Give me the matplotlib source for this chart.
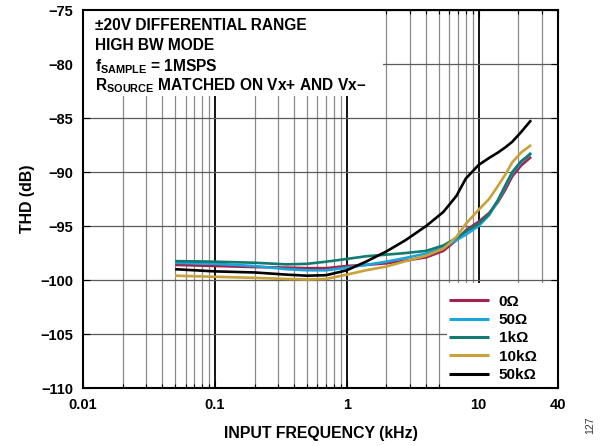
#!/usr/bin/env python
# -*- coding: utf-8 -*-

import matplotlib
matplotlib.use('Agg')
import matplotlib.pyplot as plt
from matplotlib.patches import Rectangle
from matplotlib.ticker import LogLocator, FixedLocator, FixedFormatter, NullFormatter

###############################################################################
# Data
###############################################################################
FREQ_KHZ = [
    0.05, 0.1, 0.2, 0.35, 0.5, 0.7, 1, 1.4, 2, 2.8, 4, 5.4, 6.8, 8,
    10, 12, 14, 16, 18, 21, 25
]
THD_0R = [
    -98.6, -98.7, -98.8, -98.85, -98.9, -98.9, -98.7, -98.6, -98.45, -98.2,
    -97.9, -97.3, -96.3, -95.4, -94.6, -93.8, -92.8, -91.6, -90.4, -89.4, -88.6
]
THD_50R = [
    -98.4, -98.5, -98.7, -99.0, -99.1, -99.1, -98.85, -98.6, -98.3, -97.95,
    -97.55, -97.0, -96.3, -95.8, -95.0, -94.0, -92.7, -91.3, -90.1, -89.1, -88.2
]
THD_1K = [
    -98.25, -98.3, -98.4, -98.55, -98.5, -98.3, -98.05, -97.8, -97.65, -97.5,
    -97.3, -96.8, -96.1, -95.5, -94.8, -93.9, -92.6, -91.2, -90.0, -89.0, -88.3
]
THD_10K = [
    -99.6, -99.7, -99.8, -99.9, -99.95, -99.9, -99.5, -99.1, -98.75, -98.25,
    -97.75, -97.1, -96.0, -94.8, -93.5, -92.5, -91.3, -90.2, -89.1, -88.2, -87.5
]
THD_50K = [
    -99.0, -99.2, -99.3, -99.5, -99.6, -99.55, -99.1, -98.3, -97.35, -96.3,
    -95.0, -93.7, -92.2, -90.6, -89.35, -88.7, -88.2, -87.7, -87.2, -86.3, -85.2
]
LABELS = ['0Ω', '50Ω', '1kΩ', '10kΩ', '50kΩ']
COLORS = ['#A3234F', '#1BA5DD', '#127A6E', '#C9A13A', '#000000']
XTICKS = [0.01, 0.1, 1, 10, 40]
XTICK_LABELS = ['0.01', '0.1', '1', '10', '40']
YTICKS = [-75, -80, -85, -90, -95, -100, -105, -110]
NOTE_LINES = [
    '±20V DIFFERENTIAL RANGE',
    'HIGH BW MODE',
    r'f$_{\mathregular{SAMPLE}}$ = 1MSPS',
    r'R$_{\mathregular{SOURCE}}$ MATCHED ON Vx+ AND Vx–',
]

###############################################################################
# Style
###############################################################################
plt.rcParams['font.family'] = ['Liberation Sans', 'DejaVu Sans']
plt.rcParams['font.weight'] = 'bold'
plt.rcParams['mathtext.fontset'] = 'custom'
plt.rcParams['mathtext.rm'] = 'Liberation Sans:bold'
plt.rcParams['mathtext.it'] = 'Liberation Sans:bold'
plt.rcParams['mathtext.bf'] = 'Liberation Sans:bold'
FS_TICK = 10.5
FS_TEXT = 11.2

###############################################################################
# Plot
###############################################################################
fig = plt.figure(figsize=(6.02, 4.46), dpi=100)
ax = fig.add_axes([0.1379, 0.130, 0.789, 0.8475])

series = [THD_0R, THD_50R, THD_1K, THD_10K, THD_50K]
for (vals, lab, col) in zip(series, LABELS, COLORS):
    ax.plot(FREQ_KHZ, vals, color=col, lw=1.9, label=lab, zorder=2,
            solid_joinstyle='round', solid_capstyle='butt')

ax.set_xscale('log')
ax.set_xlim(0.01, 40)
ax.set_ylim(-110, -75)
ax.xaxis.set_major_locator(FixedLocator(XTICKS))
ax.xaxis.set_major_formatter(FixedFormatter(XTICK_LABELS))
ax.xaxis.set_minor_locator(LogLocator(base=10, subs=range(2, 10), numticks=20))
ax.xaxis.set_minor_formatter(NullFormatter())
ax.set_yticks(YTICKS)

ax.set_axisbelow(True)
ax.grid(axis='x', which='major', color='black', lw=1.3)
ax.grid(axis='x', which='minor', color='#8a8a8a', lw=0.9)
ax.grid(axis='y', which='major', color='#5a5a5a', lw=0.9)

ax.tick_params(which='both', direction='in', top=True, right=True,
               labelsize=FS_TICK, pad=7)
ax.tick_params(which='major', length=5, width=0.8)
ax.tick_params(which='minor', length=3, width=0.8)
for sp in ax.spines.values():
    sp.set_linewidth(1.5)

ax.set_xlabel('INPUT FREQUENCY (kHz)', fontsize=11.4, fontweight='bold', labelpad=10)
ax.set_ylabel('THD (dB)', fontsize=11.4, fontweight='bold', labelpad=4)

# white panels behind the conditions text and the legend
ax.add_patch(Rectangle((0, 0.772), 0.632, 0.228, transform=ax.transAxes,
                       facecolor='white', edgecolor='none', zorder=1))
ax.add_patch(Rectangle((0.766, 0), 0.234, 0.278, transform=ax.transAxes,
                       facecolor='white', edgecolor='none', zorder=1))
for (txt, yy) in zip(NOTE_LINES, [0.947, 0.895, 0.838, 0.787]):
    ax.text(0.025, yy, txt, transform=ax.transAxes, fontsize=FS_TEXT,
            fontweight='bold', va='baseline', ha='left', zorder=3)

leg = ax.legend(loc='lower right', bbox_to_anchor=(0.968, 0.0),
                fontsize=11, frameon=False,
                borderaxespad=0, handlelength=2.6, handletextpad=0.65,
                labelspacing=0.28, borderpad=0.4)
for t in leg.get_texts():
    t.set_fontweight('bold')
for h in leg.get_lines():
    h.set_linewidth(2.2)

fig.text(0.981, 0.047, '127', rotation=90, fontsize=7.5, fontweight='normal',
         color='#333333', ha='center', va='center')

plt.savefig('out.png', dpi=100, facecolor='white')
plt.close()
